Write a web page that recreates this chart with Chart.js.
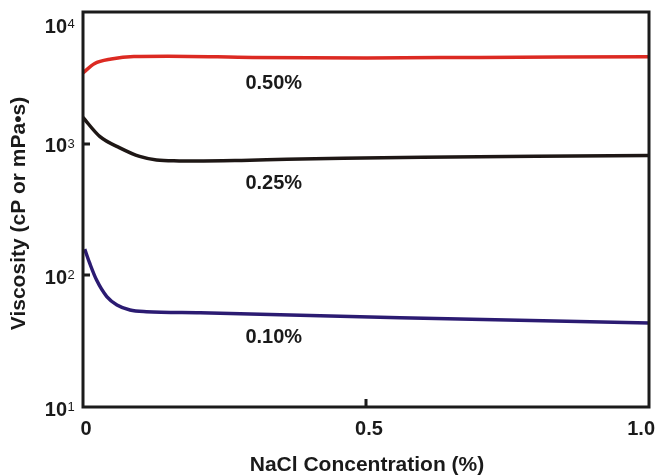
<!DOCTYPE html>
<html>
<head>
<meta charset="utf-8">
<script src="https://cdn.jsdelivr.net/npm/chart.js@4"></script>
<style>
  html, body { margin: 0; padding: 0; background: #fff; }
  #wrap { width: 657px; height: 476px; position: relative; }
</style>
</head>
<body>
<div id="wrap"><canvas id="c"></canvas></div>
<script>
// Viscosity vs. NaCl concentration for three polymer concentrations
const nacl050 = [0, 0.02, 0.05, 0.09, 0.15, 0.3, 0.5, 0.7, 1.0];
const visc050 = [3450, 4050, 4400, 4600, 4620, 4520, 4480, 4520, 4580];

const nacl025 = [0, 0.03, 0.065, 0.1, 0.13, 0.17, 0.2, 0.28, 0.36, 0.46, 0.6, 0.8, 1.0];
const visc025 = [1580, 1130, 930, 800, 752, 740, 738, 746, 760, 774, 788, 802, 812];

const nacl010 = [0.003, 0.012, 0.024, 0.042, 0.06, 0.083, 0.112, 0.207, 0.56, 1.0];
const visc010 = [158, 123, 92, 69, 59.6, 54.6, 53, 52, 47.6, 43.5];

const seriesNames = ['0.50%', '0.25%', '0.10%'];
const seriesColors = ['#dc2a22', '#1e1715', '#2b1b72'];

const xTickValues = [0, 0.5, 1.0];
const xTickLabels = ['0', '0.5', '1.0'];
const yTickValues = [10, 100, 1000, 10000];
const yTickExponents = ['1', '2', '3', '4'];

const FONT = '"Liberation Sans", Arial, Helvetica, sans-serif';

function pairs(xs, ys) { return xs.map((x, i) => ({ x: x, y: ys[i] })); }

// Where each series name sits, in data coordinates
const seriesLabelAt = [
  { x: 0.337, y: 2840 },
  { x: 0.337, y: 502 },
  { x: 0.337, y: 34 }
];

const framePlugin = {
  id: 'frame',
  afterDraw(chart) {
    const { ctx, chartArea: a, scales } = chart;
    const xs = scales.x, ys = scales.y;
    ctx.save();

    // plot frame
    ctx.strokeStyle = '#1b1b1b';
    ctx.lineWidth = 3;
    ctx.strokeRect(a.left, a.top, a.right - a.left, a.bottom - a.top);

    // inward tick marks
    ctx.beginPath();
    [100, 1000].forEach(v => {
      const y = Math.round(ys.getPixelForValue(v));
      ctx.moveTo(a.left, y); ctx.lineTo(a.left + 7, y);
    });
    const xm = Math.round(xs.getPixelForValue(0.5));
    ctx.moveTo(xm, a.bottom); ctx.lineTo(xm, a.bottom - 8);
    ctx.stroke();

    ctx.fillStyle = '#1a1a1a';

    // y tick labels: 10 with superscript exponent
    yTickValues.forEach((v, i) => {
      let cy = ys.getPixelForValue(v) + 3;
      cy = Math.max(cy, a.top + 15);
      ctx.font = 'bold 20px ' + FONT;
      ctx.textAlign = 'right';
      ctx.textBaseline = 'middle';
      ctx.fillText('10', 67, cy);
      ctx.font = '13px ' + FONT;
      ctx.textAlign = 'left';
      ctx.textBaseline = 'top';
      ctx.fillText(yTickExponents[i], 67.5, cy - 9);
    });

    // x tick labels
    ctx.font = 'bold 20px ' + FONT;
    ctx.textBaseline = 'middle';
    ctx.textAlign = 'center';
    xTickValues.forEach((v, i) => {
      const w = ctx.measureText(xTickLabels[i]).width;
      let cx = xs.getPixelForValue(v) + 3;
      cx = Math.min(cx, 655 - w / 2);
      ctx.fillText(xTickLabels[i], cx, 429);
    });

    // axis titles
    ctx.font = 'bold 21px ' + FONT;
    ctx.fillText('NaCl Concentration (%)', (a.left + a.right) / 2 + 1, 465);
    ctx.save();
    ctx.translate(19, (a.top + a.bottom) / 2 + 4);
    ctx.rotate(-Math.PI / 2);
    ctx.fillText('Viscosity (cP or mPa\u2022s)', 0, 0);
    ctx.restore();

    // series names
    ctx.font = 'bold 20px ' + FONT;
    seriesLabelAt.forEach((p, i) => {
      ctx.fillText(seriesNames[i], xs.getPixelForValue(p.x), ys.getPixelForValue(p.y));
    });

    ctx.restore();
  }
};

const lineStyle = {
  borderWidth: 3.5,
  pointRadius: 0,
  fill: false,
  cubicInterpolationMode: 'monotone'
};

new Chart(document.getElementById('c'), {
  type: 'line',
  data: {
    datasets: [
      Object.assign({ label: seriesNames[0], data: pairs(nacl050, visc050), borderColor: seriesColors[0] }, lineStyle),
      Object.assign({ label: seriesNames[1], data: pairs(nacl025, visc025), borderColor: seriesColors[1] }, lineStyle),
      Object.assign({ label: seriesNames[2], data: pairs(nacl010, visc010), borderColor: seriesColors[2] }, lineStyle)
    ]
  },
  options: {
    responsive: true,
    maintainAspectRatio: false,
    devicePixelRatio: 1,
    animation: false,
    layout: { padding: { top: 12, right: 8, left: 0, bottom: 0 } },
    plugins: { legend: { display: false }, tooltip: { enabled: false } },
    scales: {
      x: {
        type: 'linear', min: 0, max: 1,
        ticks: { display: false },
        grid: { display: false },
        border: { display: false },
        afterFit(s) { s.height = 69; }
      },
      y: {
        type: 'logarithmic', min: 10, max: 10000,
        ticks: { display: false },
        grid: { display: false },
        border: { display: false },
        afterFit(s) { s.width = 83; }
      }
    }
  },
  plugins: [framePlugin]
});
</script>
</body>
</html>
